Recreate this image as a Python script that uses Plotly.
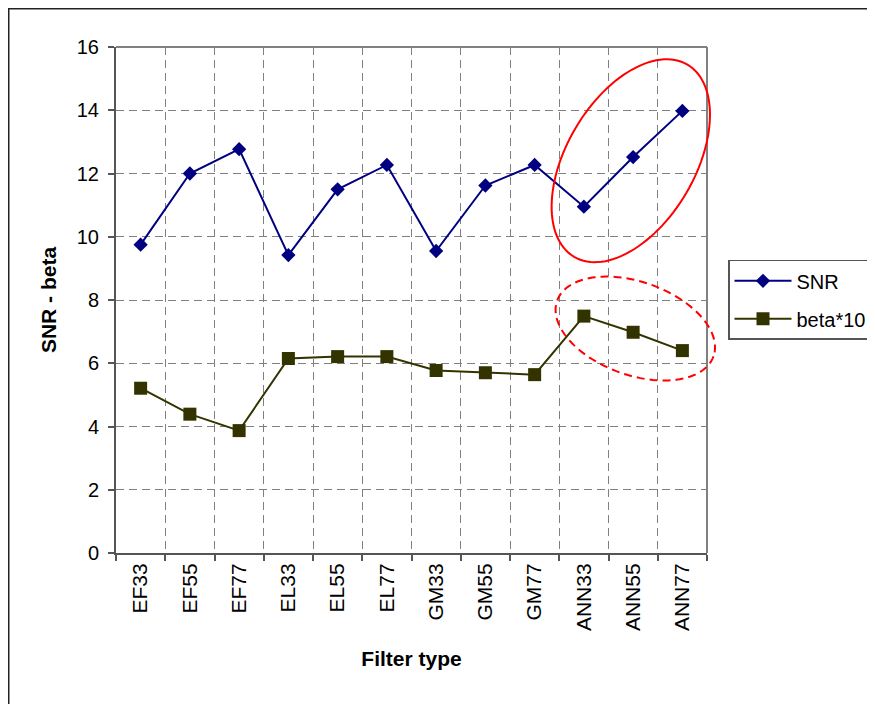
import numpy as np
import plotly.graph_objects as go

categories = ["EF33", "EF55", "EF77", "EL33", "EL55", "EL77",
              "GM33", "GM55", "GM77", "ANN33", "ANN55", "ANN77"]
snr = [9.75, 12.0, 12.77, 9.42, 11.5, 12.27, 9.55, 11.62, 12.27, 10.95, 12.52, 13.98]
beta10 = [5.21, 4.39, 3.87, 6.15, 6.21, 6.21, 5.77, 5.70, 5.64, 7.49, 6.98, 6.40]
y_ticks = [0, 2, 4, 6, 8, 10, 12, 14, 16]

OFF = 8  # page body margin
W, H = 867, 696
L, R, T = 108, 168, 39
B = H - (553.3 - OFF)
PW, PH = W - L - R, H - T - B

font = "Liberation Sans, Arial, sans-serif"

fig = go.Figure()
fig.add_trace(go.Scatter(
    x=categories, y=snr, name="SNR", mode="lines+markers",
    line=dict(color="#000080", width=2),
    marker=dict(symbol="diamond", size=11, color="#000080"),
    legendgroup="a"))
fig.add_trace(go.Scatter(
    x=categories, y=beta10, name="beta*10", mode="lines+markers",
    line=dict(color="#333300", width=2),
    marker=dict(symbol="square", size=13, color="#333300"),
    legendgroup="b"))


def px2paper(sx, sy):
    # screen pixel -> paper fraction
    px, py = sx - OFF, sy - OFF
    return (px - L) / PW, (H - B - py) / PH


def ellipse_path(cx, cy, a, b, theta_deg, n=120):
    th = np.radians(theta_deg)
    u = np.array([np.cos(th), -np.sin(th)])
    v = np.array([np.sin(th), np.cos(th)])
    pts = []
    for t in np.linspace(0, 2 * np.pi, n, endpoint=False):
        p = np.array([cx, cy]) + a * np.cos(t) * u + b * np.sin(t) * v
        x, y = px2paper(p[0], p[1])
        pts.append(f"{x:.5f},{y:.5f}")
    return "M" + " L".join(pts) + " Z"


shapes = [
    # outer frame
    dict(type="rect", xref="paper", yref="paper",
         x0=px2paper(OFF + 0.75, 0)[0], x1=px2paper(920, 0)[0],
         y0=px2paper(0, OFF + 0.75)[1], y1=px2paper(0, 740)[1],
         line=dict(color="#222222", width=1.5), layer="below"),
    # plot-area top and right border
    dict(type="line", xref="paper", yref="paper", x0=0, x1=1, y0=1, y1=1,
         line=dict(color="#808080", width=2)),
    dict(type="line", xref="paper", yref="paper", x0=1, x1=1, y0=0, y1=1,
         line=dict(color="#808080", width=2)),
    # highlight ellipses
    dict(type="path", xref="paper", yref="paper",
         path=ellipse_path(630.8, 160.8, 111.6, 64.2, 59.5),
         line=dict(color="#FF0000", width=2)),
    dict(type="path", xref="paper", yref="paper",
         path=ellipse_path(635.3, 328.7, 83.0, 46.6, -19.6),
         line=dict(color="#FF0000", width=2, dash="8px,5px")),
]

lx, ly = px2paper(728, 260)

fig.update_layout(
    width=W, height=H,
    margin=dict(l=L, r=R, t=T, b=B, autoexpand=False),
    paper_bgcolor="white", plot_bgcolor="white",
    font=dict(family=font, color="black", size=20),
    showlegend=True,
    legend=dict(x=lx, y=ly, xanchor="left", yanchor="top",
                bordercolor="#555555", borderwidth=1.5,
                font=dict(size=20, family=font), tracegroupgap=9,
                itemwidth=57, bgcolor="white"),
    shapes=shapes,
    xaxis=dict(
        type="category", range=[-0.5, 11.5], tickson="boundaries",
        ticks="outside", ticklen=6, tickcolor="#555555", tickwidth=1.5,
        tickangle=-90, tickfont=dict(size=21, family=font),
        showline=True, linecolor="#555555", linewidth=2,
        showgrid=True, gridcolor="#808080", gridwidth=1.2, griddash="8px,5px",
        title=dict(text="<b>Filter type</b>", font=dict(size=21, family=font), standoff=21),
        automargin=False, zeroline=False),
    yaxis=dict(
        range=[0, 16], tickvals=y_ticks, ticks="outside", ticklen=6,
        tickcolor="#555555", tickwidth=1.5, tickfont=dict(size=20, family=font),
        ticklabelstandoff=5,
        showline=True, linecolor="#555555", linewidth=2,
        showgrid=True, gridcolor="#808080", gridwidth=1.2, griddash="8px,5px",
        title=dict(text="<b>SNR - beta</b>", font=dict(size=21, family=font), standoff=14),
        automargin=False, zeroline=False),
)

fig.write_html("out.html")
